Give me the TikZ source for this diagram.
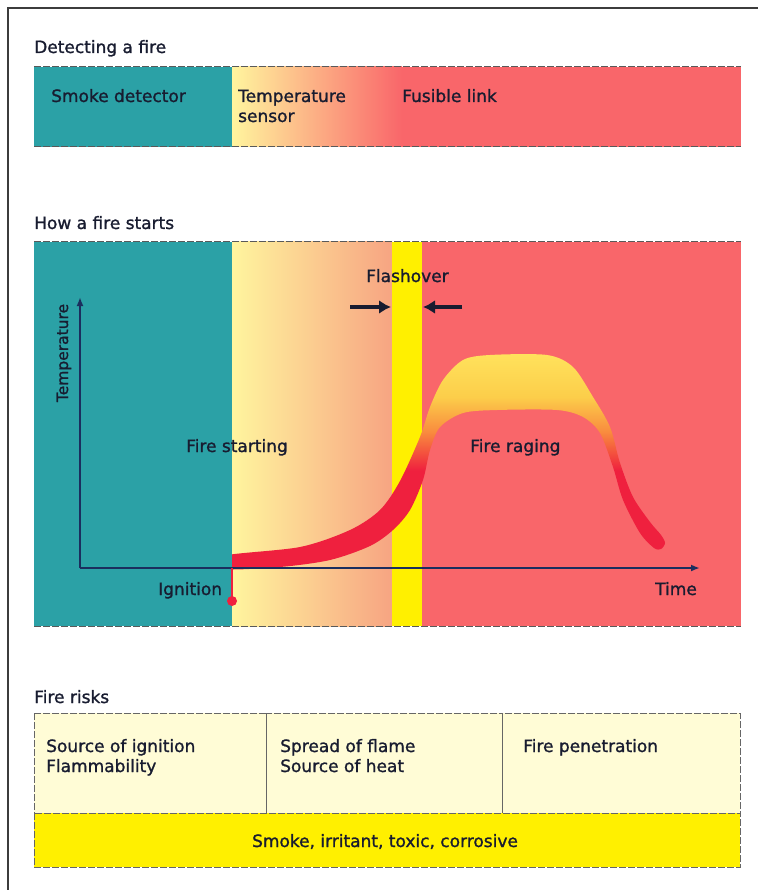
\documentclass[tikz,border=0pt]{standalone}
\usepackage{fontspec}
\setmainfont{DejaVu Sans}[FakeBold=1.2]
\usetikzlibrary{arrows.meta,positioning}

\definecolor{smoketeal}{RGB}{43,161,166}
\definecolor{firered}{RGB}{249,102,106}
\definecolor{paleyellow}{RGB}{255,245,158}
\definecolor{warmorange}{RGB}{251,184,126}
\definecolor{peach}{RGB}{247,164,130}
\definecolor{midpeach}{RGB}{252,218,150}
\definecolor{stripyellow}{RGB}{255,240,0}
\definecolor{cream}{RGB}{255,252,214}
\definecolor{textnavy}{RGB}{24,28,48}
\definecolor{axisnavy}{RGB}{27,46,94}
\definecolor{flamered}{RGB}{239,32,62}
\definecolor{flameorange}{RGB}{249,140,62}
\definecolor{flameyellow}{RGB}{252,206,74}
\definecolor{flamelight}{RGB}{255,226,92}
\definecolor{framegray}{RGB}{60,60,60}

\pgfdeclareverticalshading{flame}{100bp}{color(0bp)=(flamered); color(48bp)=(flamered); color(57bp)=(flameorange); color(65bp)=(flameyellow); color(75bp)=(flamelight); color(100bp)=(flamelight)}

\begin{document}
\begin{tikzpicture}[x=1pt,y=-1pt,
    txt/.style={font=\fontsize{17}{20}\selectfont, text=textnavy, inner sep=0pt, anchor=base west, align=left},
    barline/.style={draw=black!65, line width=1pt, dash pattern=on 7pt off 2pt},
    riskbox/.style={draw=black!60, line width=1pt, dash pattern=on 7pt off 2pt},
    axisline/.style={draw=axisnavy, line width=1.8pt, -{Latex[length=9pt,width=7pt]}},
    flasharrow/.style={draw=textnavy, line width=4pt, -{Latex[length=12pt,width=14pt]}}]
  \useasboundingbox (0,0) rectangle (758,890);
  \fill[white] (0,0) rectangle (758,890);
  % frame
  \draw[framegray, line width=2pt] (8,890) -- (8,8) -- (758,8);

  % detecting a fire
  \node[txt] (detect) at (34,53) {Detecting a fire};
  \fill[firered] (34,67) rectangle (741,147);
  \fill[smoketeal] (34,67) rectangle (232,147);
  \shade[left color=paleyellow, middle color=warmorange, right color=firered] (232,67) rectangle (402,147);
  \draw[barline] (34,67) -- (741,67);
  \draw[barline] (34,147) -- (741,147);
  \node[txt] (smoke) at (51,102) {Smoke detector};
  \node[txt] (tsensor) at (238,122) {Temperature\\sensor};
  \node[txt] (fusible) at (402,102) {Fusible link};

  % how a fire starts
  \node[txt] (howstarts) at (34,229) {How a fire starts};
  \fill[firered] (34,242) rectangle (741,626);
  \fill[smoketeal] (34,242) rectangle (232,626);
  \shade[left color=paleyellow, middle color=midpeach, right color=peach] (232,242) rectangle (392,626);
  \fill[stripyellow] (392,242) rectangle (422,626);
  \draw[barline] (34,242) -- (741,242);
  \draw[barline] (34,626) -- (741,626);

  % temperature curve
  \begin{scope}
    \clip (232,242) rectangle (741,626);
    \shade[shading=flame] plot[smooth cycle, tension=0.5] coordinates {
      (222,556) (300,547) (350,530) (380,510) (400,481) (420,437) (430,407)
      (443,380) (463,360) (490,355) (547,355) (573,367) (593,397) (610,427)
      (620,463) (633,497) (650,522) (661,535) (665,543) (661,549) (654,548)
      (640,533) (623,500) (613,467) (600,433) (583,417) (557,410) (497,410)
      (463,413) (440,427) (430,450) (423,480) (410,510) (393,530) (370,546)
      (330,560) (280,567) (222,569)};
  \end{scope}

  % axes
  \coordinate (origin) at (80,568);
  \coordinate (tempend) at (80,297);
  \coordinate (timeend) at (700,568);
  \draw[axisline] (origin) -- (tempend);
  \draw[axisline] (origin) -- (timeend);
  \node[txt, font=\fontsize{15.5}{17}\selectfont, anchor=base, rotate=90] (templbl) at (68,353) {Temperature};
  \node[txt] (timelbl) at (655,595) {Time};

  % ignition
  \coordinate (ignpt) at (232,568);
  \node[circle, fill=flamered, inner sep=0pt, minimum size=10pt] (igndot) at (232,601) {};
  \draw[flamered, line width=2pt] (ignpt) -- (igndot.center);
  \node[txt] (ignition) at (158,595) {Ignition};

  % flashover
  \node[txt] (flash) at (366,282) {Flashover};
  \coordinate (fleft) at (350,307);
  \coordinate (fright) at (462,307);
  \coordinate (stripl) at (391,307);
  \coordinate (stripr) at (423,307);
  \draw[flasharrow] (fleft) -- (stripl);
  \draw[flasharrow] (fright) -- (stripr);

  \node[txt] (starting) at (186,452) {Fire starting};
  \node[txt] (raging) at (470,452) {Fire raging};

  % fire risks
  \node[txt] (risks) at (34,703) {Fire risks};
  \fill[cream] (34,713) rectangle (740,813);
  \draw[riskbox] (34,713) rectangle (266,813);
  \draw[riskbox] (266,713) rectangle (502,813);
  \draw[riskbox] (502,713) rectangle (740,813);
  \draw[riskbox, fill=stripyellow] (34,813) rectangle (740,867);
  \node[txt] (ignsrc) at (46,772) {Source of ignition\\Flammability};
  \node[txt] (spread) at (280,772) {Spread of flame\\Source of heat};
  \node[txt] (penetr) at (523,752) {Fire penetration};
  \node[txt, anchor=base] (smokerisk) at (385,847) {Smoke, irritant, toxic, corrosive};
\end{tikzpicture}
\end{document}
